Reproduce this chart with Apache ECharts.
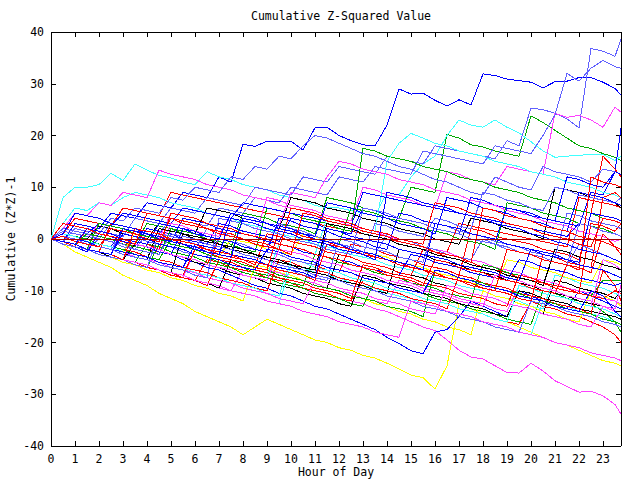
<!DOCTYPE html>
<html><head><meta charset="utf-8">
<script src="https://cdn.jsdelivr.net/npm/echarts@6/dist/echarts.min.js"></script>
<style>html,body{margin:0;padding:0;background:#fff}#c{width:640px;height:480px}#c svg path{shape-rendering:crispEdges}</style>
</head><body><div id="c"></div>
<script>
const TITLE = 'Cumulative Z-Squared Value';
const X_NAME = 'Hour of Day';
const Y_NAME = 'Cumulative (Z*Z)-1';
const HOURS = [0,0.5,1,1.5,2,2.5,3,3.5,4,4.5,5,5.5,6,6.5,7,7.5,8,8.5,9,9.5,10,10.5,11,11.5,12,12.5,13,13.5,14,14.5,15,15.5,16,16.5,17,17.5,18,18.5,19,19.5,20,20.5,21,21.5,22,22.5,23,23.5,23.75];

const blueA = [0,-0.5,3,2.5,2,5,4.5,4, 7,6.5,6,9,8.5,8,12,11, 18.3,17.9,18.9,18.9,18.9,17.2,21.5,21.6, 20,19,18.2,18,22,29,28,28.2, 26.8,25.7,26.9,25.9,31.9,31.6,30.9,30.6, 30.3,29.2,30.4,30.5,31.2,31.2,30.3,29.1, 27.8];
const lightA = [0,-0.5,-1,2,1.5,1,0.5,4, 3.5,3,6,5.5,5,8,7.5,7, 6.5,10,9.5,9,8.5,12,11.5,11, 14,13.5,13,12.5,16,15.5,15,14.5, 18,17.5,17,16.5,16,15.5,19,18, 25.3,25,24.3,23.2,21.5,36.8,36.3,35.3, 38.6];
const lightB = [0,1.5,1,0.5,0,3,2.5,2, 1.5,1,4,3.5,3,2.5,6,5.5, 5,8,7.5,7,10,9.5,9,8.5, 12,11.5,11,14,13.5,13,12.5,17, 16.5,16,15.5,15,14.5,18,17.5,17, 16.5,20,24,32,30.5,33,34.5,33.3, 33];
const lightC = [0,-0.5,2,1.5,1,4,3.5,6, 5.5,5,8,7.5,10,9.5,9,12, 11.5,14,13.5,16,15.5,18,20,19.5, 18.5,17.5,16.5,16,15,14,13.5,12.5, 11.5,11,10,9,8.5,12,11,10, 9.5,14,13,12.5,12,11,13.5,13, 12.5];
const lightD = [0,-1,-1.5,-2,0,-0.5,-1.5,-2, 1,0.5,-0.5,-1,-2,2,1.5,0.5, 0,-1,-1.5,3,2,1.5,0.5,0, -1,-1.5,-2.5,-3,1,0,-0.5,-1.5, -2,-3,-3.5,-4,0,-1,-1.5,-2.5, -3,-3.5,-4.5,-5,-1,-2,-3,-4, -4.5];
const lightE = [0,0.5,-0.5,-1,-1.5,-2,1,0.5, -0.5,-1,-1.5,-2.5,-3,-3.5,0,-0.5, -1,-2,-2.5,-3,-4,-4.5,-5,-1, -1.5,-2,-3,3,2.5,1.5,1,0.5, 4,3.5,2.5,2,9,8.5,7.5,7, 6,5.5,10,9.5,8.5,8,7.5,7, 8];
const lightF = [0,2,1.5,1,0,-0.5,-1,-2, -2.5,-3,1,0.5,0,-1,-1.5,-2, -3,-3.5,-4,-5,-5.5,-6,-7,-7.5, -8,-9,-9.5,-10,-11,-11.5,-12,-13, -13.5,-14,-15,-15.5,-16,-17,-17.5,-18, -12,-12.5,-13,-14,-14.5,-15,-16,-16.5, -17];
const lightG = [0,-1,-1.5,-2,-3,-3.5,-4,-5, -5.5,1,0.5,0,-1,-1.5,-2,-3, -3.5,-4,-5,-5.5,-6,-7,-7.5,-8, 0,-0.5,-1.5,-2,-2.5,-3.5,-4,-4.5, 3,2.5,1.5,1,0.5,-0.5,-1,-1.5, -2.5,-3,-3.5,5,4.5,3.5,3,2.5, 2];
const lightH = [0,0.5,0,-1,-1.5,-2,-3,-3.5, -4,-5,-5.5,-6,-7,-7.5,4,3.5, 3,2,1.5,1,0,-0.5,-1,-2, -2.5,-3,6,5.5,5,4,3.5,3, 2,1.5,1,0,-0.5,-1,-2,-2.5, -3,-4,-4.5,-5,3,2.5,1.5,1, 0.5];
const blueB = [0,-0.5,-1,1,0.5,0,-1,-1.5, 2,1.5,1,0,-0.5,-1,3,2.5, 1.5,1,0.5,-0.5,4,3.5,3,2, 1.5,1,6,5.5,4.5,4,3.5,3, 2,1.5,1,8,7.5,6.5,6,5.5, 5,4,3.5,3,2.5,9,8.5,13, 21.4];
const blueC = [0,-0.5,-1.5,-2,-2.5,-3.5,-4,-1, -1.5,-2.5,-3,-4,-4.5,-5.5,-6,-7, -8,-9,-9.5,-10.5,-11,-12,-13,-13.5, -14.5,-15.5,-16.5,-17.5,-19,-20.2,-21.6,-22.2, -18,-17.5,-15,-12,-13,-14,-15,-10, -11,-12,-12.5,-13.5,-10,-11,-12,-13, -13.5];
const blueD = [0,2,1.5,1,3,2.5,5,4.5, 4,3.5,3,6,5.5,5,4.5,4, 7,6.5,6,5.5,5,4.5,4,3.5, 3,2.5,9,8.5,8,7.5,7,6.5, 6,5.5,5,4.5,4,3.5,3,2.5, 2,1.5,1,0.5,3,2.5,1.5,1, 0.5];
const blueE = [0,1,0.5,-0.5,-1,-1.5,2,1.5, 0.5,0,-0.5,4,3.5,3,2,1.5, 1,0.5,-0.5,-1,-1.5,-2.5,-3,-3.5, -4,-4.5,-5.5,-6,-6.5,-7,-3,-3.5, -4.5,-5,-5.5,-6.5,-7,-7.5,-8,-4, -4.5,-5.5,-6,-6.5,-7.5,-8,-8.5,-9, -8.5];
const blueF = [0,-1,-1.5,-2.5,1,0.5,-0.5,-1, -1.5,-2.5,-3,2,1.5,0.5,0,-0.5, -1.5,-2,-2.5,4,3.5,2.5,2,1.5, 0.5,0,-0.5,-1.5,-2,5,4.5,3.5, 3,2.5,1.5,1,0.5,-0.5,6,5.5, 4.5,4,3.5,12,11.5,10.5,10,13, 12.5];
const blueG = [0,-0.5,-1,-2,-2.5,-3,1,0.5, 0,-1,-1.5,-2,-3,-3.5,-4,-5, -5.5,-6,-2,-2.5,-3.5,-4,-4.5,-5.5, -6,-6.5,-7.5,-8,-8.5,-9.5,-10,-10.5, -6,-6.5,-7.5,-8,-9,-9.5,-10,-11, -11.5,-12,-13,-13.5,-14,-10,-11,-14, -15];
const blueH = [0,0.5,0,-0.5,-1.5,-2,-2.5,-3, -3.5,-4.5,-5,-5.5,-1,-1.5,-2,-3, -3.5,-4,-5,-5.5,-6,-6.5,-7.5,2, 1.5,0.5,0,-0.5,-1,-2,-2.5,-3, -3.5,-4,-5,-5.5,-6,-6.5,-7.5,-8, -2,-2.5,-3,-4,-4.5,5,4.5,4, 3.5];
const blueI = [0,-0.5,-1,2,1.5,1,0,-0.5, -1,3,2.5,2,1,0.5,0,5, 4.5,4,3,2.5,2,1,0.5,7, 6.5,6,5,4.5,4,3,2.5,2, 1,8,7.5,7,6,5.5,5,4, 3.5,3,2,1.5,9,8.5,8,7, 6.5];
const blueJ = [0,1,5,4.5,4,3,2.5,2, 1,0.5,-0.5,-1,-1.5,-2.5,-3,-3.5, 4,3.5,3,2,1.5,1,0,-0.5, -1,-2,-2.5,-3,-4,-4.5,-5,-6, 3,2.5,2,1,0.5,0,-1,-1.5, -2,-3,-3.5,-4,-5,-5.5,-6,-7, -7.5];
const blueK = [0,-0.5,-1,-2,-2.5,-3,2,1.5, 1,0,-0.5,-1,-2,-2.5,-3,4, 3.5,3,2,1.5,1,0,-0.5,-1, -2,-2.5,-3,-4,9,8.5,8,7, 6.5,6,5,4.5,4,3,2.5,2, 1,0.5,-0.5,-1,-2,-2.5,-3,-4, -4.5];
const redA = [0,1,4,3.5,3,2.5,6,5.5, 5,4.5,9,8.5,8,7.5,7,6.5, 6,5.5,5,4.5,4,3.5,3,2.5, 2,1.5,1,0.5,0,-0.5,-1,-1.5, -2,-2.5,3,2.5,2,1.5,1,0.5, 0,-0.5,-1,-1.5,8,7.5,7,6.5, 6];
const redB = [0,-0.5,-1.5,-2,-2.5,-3.5,-4,-4.5, -5.5,-6,-6.5,-7.5,-8,-4,-4.5,-5.5, -6,-6.5,-7.5,-8,-8.5,-9.5,-10,-10.5, -11.5,-12,-8,-8.5,-9.5,-10,-10.5,-11.5, -12,-12.5,-13.5,-14,-14.5,-15.5,-16,-16.5, -12,-13,-13.5,-14.5,-15,-16,-17,-18.5, -20];
const redC = [0,2,1.5,1,0.5,0,-0.5,-1.5, -2,-2.5,-3,-4,-4.5,-5,0,-0.5, -1.5,-2,-2.5,-3,-4,-4.5,-5,-6, -6.5,-1,-1.5,-2,-3,-3.5,-4,-5, -5.5,-6,-7,2,1.5,0.5,0,-0.5, -1,-2,-2.5,-3,-4,5,16,13.5, 12];
const redD = [0,-0.5,-1,-2,-2.5,3,2.5,2, 1,0.5,0,-1,-1.5,-2,-3,-3.5, -4,-5,1,0.5,-0.5,-1,-1.5,-2.5, -3,-3.5,-4.5,-5,-5.5,-6.5,-7,-2, -2.5,-3.5,-4,-4.5,-5.5,-6,-6.5,-7.5, -8,-8.5,-9.5,-10,-10.5,3,2.5,1.5, 3];
const redE = [0,1,0.5,0,-1,-1.5,-2,-2.5, -3.5,-4,-4.5,-5.5,-6,-6.5,-7.5,-8, -8.5,-9.5,-10,-4,-4.5,-5.5,-6,-6.5, -7.5,-8,-8.5,-9.5,-10,-10.5,-11.5,-12, -12.5,-13.5,-7,-7.5,-8.5,-9,-9.5,-10.5, -11,-11.5,-12.5,-13,-13.5,-14.5,-6,-9, -12];
const redF = [0,-0.5,-1.5,2,1.5,1,0,-0.5, -1,-2,5,4.5,4,3,2.5,2, 1,0.5,0,-1,-1.5,-2,-3,-3.5, -4,-5,-5.5,-6,-7,-7.5,-8,-9, -4,-4.5,-5.5,-6,-6.5,-7.5,-8,-8.5, -9.5,-10,-10.5,-5,-5.5,-6.5,1,-1.5, -3];
const redG = [0,-1,-1.5,-2,-3,-3.5,-4,-5, -5.5,-6,-7,-7.5,-8,-9,-4,-4.5, -5.5,-6,-6.5,-7.5,-8,-8.5,-9.5,-10, -10.5,-11.5,-5,-5.5,-6.5,-7,-7.5,-8.5, -9,-9.5,-10.5,-11,-11.5,-12.5,-13,-7, -7.5,-8.5,-9,-9.5,-10.5,-11,-11.5,-10, -10.5];
const redH = [0,-0.5,-1,-2,-2.5,-3,-4,-4.5, -5,-6,-6.5,-7,-2,-2.5,-3.5,-4, -4.5,-5.5,-6,2,1.5,0.5,0,-0.5, -1.5,-2,-2.5,-3.5,-4,-4.5,-5.5,-6, -6.5,-7.5,-8,-8.5,-9.5,-10,-10.5,-11.5, -12,-3,-3.5,-4.5,-5,-5.5,8,9, 8];
const redI = [0,0.5,-0.5,-1,-1.5,2,1.5,1, 0,-0.5,4,3.5,3,2,1.5,1, 0,-0.5,-1,-2,6,5.5,5,4, 3.5,3,2,1.5,1,0,-0.5,-1, 7,6.5,6,5,4.5,4,3,2.5, 2,1,0.5,0,-1,-1.5,4,3.5, 3];
const redJ = [0,-0.5,-1,-2,-2.5,-3,-4,2, 1.5,1,0,-0.5,-1,-2,-2.5,-3, -4,-4.5,-5,-6,-6.5,-7,-8,-1, -1.5,-2,-3,-3.5,-4,-5,-5.5,-6, -7,-7.5,-8,-9,-9.5,-10,-2,-2.5, -3,-4,-4.5,-5,-6,12,11,10.5, 10];
const redK = [0,3,2.5,2,1,0.5,0,-1, 5,4.5,4,3,2.5,2,1,0.5, 0,-1,-1.5,-2,-3,5,4.5,3.5, 3,2.5,1.5,1,0.5,-0.5,-1,-1.5, -2.5,-3,-3.5,-4.5,6,5.5,4.5,4, 3.5,2.5,2,1.5,0.5,0,-0.5,-1.5, -2];
const magA = [0,-0.5,-1.5,-2,-2.5,-3.5,-4,-4.5, -5.5,-6,-6.5,-7.5,-8,-8.5,-9.5,-10, -6,-6.5,-7.5,-8,-8.5,-9.5,-10,-10.5, -11.5,-12,-12.5,-13.5,-14,-15,-16,-17, -17.7,-19.5,-21.5,-22.8,-23.2,-24.5,-25.8,-25.9, -24,-25.5,-27.4,-28.5,-29.6,-29.4,-30.3,-32, -33.8];
const magB = [0,1,0.5,0,3,2.5,2,1, 0.5,0,5,4.5,4,3,2.5,2, 1,0.5,8,7.5,6.5,6,5.5,4.5, 4,3.5,10,9.5,8.5,8,7.5,6.5, 6,13,12.5,11.5,11,10.5,14,13.5, 13,12.5,24.3,23.5,23.9,23,21.6,25.5, 24.5];
const magC = [0,2,5,4.5,7,6.5,9,8.5, 8,13.3,12.5,12,11.5,10.5,10,9.5, 8.5,8,7.5,6.5,6,5.5,4.5,4, 3.5,2.5,2,1.5,0.5,0,-0.5,-1.5, -2,-2.5,-3.5,-4,-4.5,-5.5,-6,-6.5, -7.5,-8,-8.5,-9.5,-10,-10.5,-11.5,-12, -12.5];
const magD = [0,-0.5,-1,-2,1,0.5,0,-1, -1.5,-2,3,2.5,1.5,1,0.5,5, 4.5,4,3,2.5,9,8.5,8,12, 15,14.5,13.5,13,12.5,11.5,11,10.5, 9.5,9,8.5,7.5,7,6.5,5.5,5, 4.5,3.5,3,2.5,1.5,1,0.5,-0.5, 0];
const magE = [0,-1,-1.5,-2,-3,-3.5,-4,-5, -5.5,-6,-7,-7.5,-2,-2.5,-3.5,-4, -4.5,-5.5,-6,-6.5,-7.5,-8,-8.5,-9.5, -10,-10.5,-11.5,-12,-12.5,-8,-8.5,-9.5, -10,-10.5,-11.5,-12,-12.5,-13.5,-14,-9, -9.5,-10.5,-11,-11.5,-12.5,-13,-4,-5, -6];
const magF = [0,0.5,0,-0.5,-1.5,-2,-2.5,-3.5, -4,-4.5,-5.5,-6,-6.5,-7.5,-8,-8.5, -9.5,-10,-10.5,-11.5,-12,-12.5,-8,-8.5, -9.5,-10,-10.5,-11.5,-12,-12.5,-13.5,-14, -14.5,-9,-9.5,-10.5,-11,-11.5,-12.5,-13, -13.5,-14.5,-15,-15.5,-16.5,-17,-13,-14, -15];
const magG = [0,3,2.5,2,1,0.5,0,-1, -1.5,-2,-3,-3.5,-4,-5,-5.5,-6, -7,-7.5,-8,-2,-2.5,-3,-4,-4.5, -5,-6,-6.5,-7,-8,-8.5,-9,-10, -10.5,-11,-12,-12.5,-13,-7,-7.5,-8, -9,-9.5,-10,-11,-11.5,-12,-13,-13.5, -9];
const magH = [0,-0.5,-1,-2,-2.5,-3,-4,-4.5, -5,-6,-6.5,-7,-8,-8.5,-9,-10, -10.5,-11,-12,-12.5,-13,-14,-14.5,-15, -16,-16.5,-17,-18,-18.5,-19,-12,-12.5, -13,-14,-14.5,-15,-16,-16.5,-17,-18, -18.5,-19,-20,-20.5,-21,-22,-22.5,-23, -23.5];
const greenA = [0,-0.5,2,1.5,1,0.5,-0.5,-1, 3,2.5,2,1,0.5,0,-1,-1.5, 5,4.5,4,3,2.5,2,1,8, 7.5,7,6,5.5,5,4,10,9.5, 9,20.2,19.5,18.2,17.8,17,16.5,16, 23.8,22.5,21,19.5,18,17.5,16.5,15.8, 15.2];
const greenB = [0,-0.5,-1.5,-2,-2.5,-3.5,-4,-4.5, -1,-1.5,-2.5,-3,-3.5,-4.5,-5,-5.5, -6.5,-7,-7.5,-8.5,-9,-9.5,-10.5,-11, -11.5,-12.5,-13,-8,-8.5,-9.5,-10,-10.5, -11.5,-12,-12.5,-13.5,-14,-14.5,-15.5,-16, -16.5,-10,-10.5,-11.5,-12,-12.5,-14,-16, -18];
const greenC = [0,-0.5,-1,1,0.5,0,-1,-1.5, -2,-3,2,1.5,1,0,-0.5,-1, -2,-2.5,6,5.5,5,4,3.5,3, 2,1.5,17.5,17,16,15.5,15,14, 13.5,13,12,11.5,11,10,9.5,9, 8,7.5,7,6,5.5,5,4,3.5, 3];
const greenD = [0,-1,-1.5,-2,-3,-3.5,-4,-5, -5.5,-1,-1.5,-2.5,-3,-3.5,-4.5,-5, -5.5,-6.5,-7,-7.5,-8.5,-9,-3,-3.5, -4.5,-5,-5.5,-6.5,-7,-7.5,-8.5,-9, -9.5,-10.5,-11,-11.5,-5,-5.5,-6.5,-7, -7.5,-8.5,-9,-9.5,-10.5,-11,-8,-8, -8];
const greenE = [0,1,0.5,0,-1,-1.5,-2,-3, -3.5,-4,0,-0.5,-1,-2,-2.5,-3, 4,3.5,3,2,1.5,1,0,-0.5, -1,6,5.5,5,4,3.5,3,2, 1.5,1,0,-0.5,-1,-2,7,6.5, 6,5,4.5,4,3,2.5,2,1, 0.5];
const greenF = [0,-0.5,-1,-2,3,2.5,2,1, 0.5,0,-1,-1.5,-2,-3,-3.5,-4, -5,-5.5,-6,-7,-7.5,-8,-9,-9.5, -10,-11,-11.5,-12,-13,-13.5,-14,-15, -6,-6.5,-7.5,-8,-8.5,-9.5,-10,-10.5, -11.5,-12,-12.5,-13.5,-14,-14.5,-15.5,-16, -16.5];
const cyanA = [0,8,10,10,10.5,12.7,11.3,14.5, 13.3,12.3,11.8,11,10.5,13,12,11.5, 10.5,10,9.5,8.5,8,7.5,6.5,6, 6,5.5,5,4.5,9,8.5,12,14.5, 16,20,23,22,21.6,23,21.6,20.5, 18.8,17,15.8,16,16.2,16.3,16.3,15.2, 16];
const cyanB = [0,3,6,5.5,7,6.5,8,9, 8.5,8,7,6.5,6,5,4.5,4, 3,2.5,2,1,0.5,0,-1,-1.5, -2,-3,-3.5,-4,-5,-5.5,-6,-7, -7.5,-8,-9,-9.5,-10,-11,-11.5,-12, -13,-13.5,-7,-7.5,-8.5,-9,-9.5,-10.5, -11];
const cyanC = [0,-0.5,-1,-2,-2.5,-3,1,0.5, -0.5,-1,-1.5,-2.5,-3,-3.5,-4.5,-5, -5.5,-6.5,-7,-1,-1.5,-2.5,-3,4, 3.5,3,2,1.5,15,18.5,20.4,19.5, 18.5,18,17,16.5,16,15,14.5,14, 13,12.5,12,11,10.5,10,9,8.5, 8];
const cyanD = [0,-0.5,-1,-2,-2.5,-3,-4,-4.5, -5,-6,-6.5,-7,-8,-8.5,-9,-10, -10.5,-11,-12,-12.5,-5,-5.5,-6.5,-7, -7.5,-8.5,-9,-9.5,-10.5,-11,-11.5,-12.5, -13,-14,-14.5,-15,-16,-16.5,-17,-18, -18.5,-12,-12.5,-13,-14,-14.5,-15,-16, -16.5];
const cyanE = [0,1,0.5,-0.5,-1,-1.5,-2.5,-3, -3.5,-4.5,-5,-5.5,-6.5,-7,-7.5,-8.5, -9,-9.5,-10.5,-11,-4,-4.5,-5.5,-6, -6.5,-7.5,-8,-8.5,-9.5,-10,-10.5,-11.5, -12,-12.5,-13.5,-14,-14.5,-15.5,-16,-9, -9.5,-10.5,-11,-11.5,-12.5,-13,-13.5,-14.5, -15];
const yellowA = [0,-1,-2.5,-3.5,-4.5,-5.5,-7,-8, -9,-10.5,-11.5,-12.5,-14,-15,-16,-17, -18.5,-17,-15.5,-16.5,-17.5,-18.5,-19.5,-20, -21,-21.5,-22.5,-23,-24,-25.1,-26.3,-26.8, -29,-24.5,-12.5,-13.5,-14.5,-15.5,-16,-17, -18,-19,-20,-20.5,-21.5,-22.5,-23.5,-24, -24.5];
const yellowB = [0,-0.5,-1.5,-2,-3,-3.5,-4.5,-5, -6,-6.5,-7.5,-8,-9,-9.5,-10.5,-11, -12,-5,-5.5,-6.5,-7,-8,-8.5,-9.5, -10,-11,-11.5,-12.5,-13,-14,-14.5,-15.5, -16,-17,-17.5,-18.5,-10,-11,-11.5,-12.5, -13,-14,-14.5,-15.5,-16,-10,-11,-12, -13];
const yellowC = [0,0.5,0,-0.5,-1.5,-2,-2.5,1, 0.5,0,-1,-1.5,-2,-3,-3.5,0, -0.5,-1,-2,-2.5,-3,1,0.5,-0.5, -1,-1.5,-2.5,-3,-3.5,-4.5,-5,-5.5, -6.5,-7,-7.5,-8.5,-9,-9.5,-4,-4.5, -5.5,-6,-6.5,-7.5,-8,-8.5,-4,-4.5, -5];
const blackA = [0,-0.5,-1.5,-2,-2.5,-3.5,-4,-4.5, -5.5,-6,-6.5,-7.5,-8,-8.5,-9.5,-4, -4.5,-5.5,-6,-6.5,-7.5,-8,-8.5,-9.5, -3,-3.5,-4.5,-5,-5.5,-6.5,-7,-7.5, -8.5,-9,-9.5,-10.5,-11,-11.5,-12.5,-13, -13.5,-14.5,-8,-8.5,-9.5,-10,-10.5,-11.5, -10];
const blackB = [0,1,0.5,0,2.5,2,1,0.5, 0,3,2.5,2,1,6,5.5,5, 4,3.5,3,2,8,7.5,7,6, 5.5,5,4,3.5,3,2,1.5,1, 0,-0.5,-1,4,3.5,3,2,1.5, 1,0,10,9.5,9,8,7.5,7, 6];
const blackC = [0,-0.5,-1.5,-2,-2.5,-3.5,-4,-1, -1.5,-2.5,-3,-3.5,-4.5,-5,-5.5,-6.5, -7,-7.5,-8.5,-9,-9.5,-10.5,-11,-11.5, -12.5,-13,-7,-7.5,-8.5,-9,-9.5,-10.5, -11,-11.5,-12.5,-13,-13.5,-14.5,-15,-10, -10.5,-11.5,-12,-12.5,-13.5,-14,-14.5,-15, -15.5];
const blackD = [0,0.5,0,-1,-1.5,-2,-3,-3.5, -4,2,1.5,1,0,-0.5,-1,-2, -2.5,-3,-4,-4.5,-5,-6,-6.5,-7, -8,-8.5,-9,-10,-10.5,-2,-2.5,-3, -4,-4.5,-5,-6,-6.5,-7,-8,-8.5, -9,-10,-10.5,-11,-12,-12.5,-13,-14, -14];
const blackE = [0,-0.5,-1,-2,-2.5,-3,-4,-4.5, -5,-6,-6.5,1,0.5,0,-1,-1.5, -2,-3,-3.5,-4,-5,-5.5,-6,3, 2.5,2,1,0.5,0,-1,-1.5,-2, -3,-3.5,-4,-5,-5.5,-6,-7,-7.5, -8,-9,-2,-2.5,-3.5,-4,-5,-5.5, -6];
const ZERO_HOURS = [0, 23.75];
const zeroLine = [0, 0];

const RED = '#ff0000', GREEN = '#00a800', BLUE = '#0000ff', MAG = '#ff40ff', CYAN = '#40ffff', LBLUE = '#6060ff', YEL = '#ffff00', BLK = '#000000', DRED = '#a00000';
const LINES = [
  [redA, RED], [greenA, GREEN], [blueA, BLUE], [magA, MAG], [cyanA, CYAN], [lightA, LBLUE], [yellowA, YEL], [blackA, BLK],
  [redB, RED], [greenB, GREEN], [blueB, BLUE], [magB, MAG], [cyanB, CYAN], [lightB, LBLUE], [yellowB, YEL], [blackB, BLK],
  [redC, RED], [greenC, GREEN], [blueC, BLUE], [magC, MAG], [cyanC, CYAN], [lightC, LBLUE], [yellowC, YEL], [blackC, BLK],
  [redD, RED], [greenD, GREEN], [blueD, BLUE], [magD, MAG], [cyanD, CYAN], [lightD, LBLUE], [blackD, BLK],
  [redE, RED], [greenE, GREEN], [blueE, BLUE], [magE, MAG], [cyanE, CYAN], [lightE, LBLUE], [blackE, BLK],
  [redF, RED], [greenF, GREEN], [blueF, BLUE], [magF, MAG], [lightF, LBLUE],
  [redG, RED], [blueG, BLUE], [magG, MAG], [lightG, LBLUE],
  [redH, RED], [blueH, BLUE], [magH, MAG], [lightH, LBLUE],
  [redI, RED], [blueI, BLUE], [redJ, RED], [blueJ, BLUE], [redK, RED], [blueK, BLUE]
];

const FONT = 'DejaVu Sans Mono';
const FS = 11.5;
const chart = echarts.init(document.getElementById('c'), null, {renderer: 'svg'});
const series = LINES.map(([vals, color]) => ({
  type: 'line', data: vals.map((v, i) => [HOURS[i], v]), symbol: 'none', showSymbol: false,
  lineStyle: {width: 1, color: color}, itemStyle: {color: color}, silent: true, z: 2
}));
series.push({
  type: 'line', data: zeroLine.map((v, i) => [ZERO_HOURS[i], v]), symbol: 'none', showSymbol: false,
  lineStyle: {width: 1, color: DRED}, silent: true, z: 3
});
const axisCommon = {
  axisLine: {show: true, onZero: false, lineStyle: {color: '#000', width: 1}},
  axisTick: {show: true, inside: true, length: 5, lineStyle: {color: '#000', width: 1}},
  splitLine: {show: false}
};
const xFmt = v => (Math.abs(v - Math.round(v)) < 1e-6 && v <= 23) ? String(Math.round(v)) : '';
chart.setOption({
  animation: false,
  backgroundColor: '#fff',
  title: {text: TITLE, left: 336, top: 5, textAlign: 'center',
    textStyle: {fontFamily: FONT, fontSize: FS, fontWeight: 'normal', color: '#000'}},
  grid: {left: 51, right: 19, top: 32, bottom: 34, outerBoundsMode: 'none', containLabel: false},
  xAxis: [
    Object.assign({type: 'value', min: 0, max: 23.75, interval: 1, position: 'bottom',
      name: X_NAME, nameLocation: 'middle', nameGap: 20, nameMoveOverlap: false,
      nameTextStyle: {fontFamily: FONT, fontSize: FS, color: '#000'},
      axisLabel: {formatter: xFmt, margin: 7, fontFamily: FONT, fontSize: FS, color: '#000'}}, axisCommon),
    Object.assign({type: 'value', min: 0, max: 23.75, interval: 1, position: 'top',
      axisLabel: {show: false}}, axisCommon)
  ],
  yAxis: [
    Object.assign({type: 'value', min: -40, max: 40, interval: 10, position: 'left',
      name: Y_NAME, nameLocation: 'middle', nameGap: 34, nameMoveOverlap: false,
      nameTextStyle: {fontFamily: FONT, fontSize: FS, color: '#000'},
      axisLabel: {margin: 7, fontFamily: FONT, fontSize: FS, color: '#000'}}, axisCommon),
    Object.assign({type: 'value', min: -40, max: 40, interval: 10, position: 'right',
      axisLabel: {show: false}}, axisCommon)
  ],
  series: series
});
</script></body></html>
